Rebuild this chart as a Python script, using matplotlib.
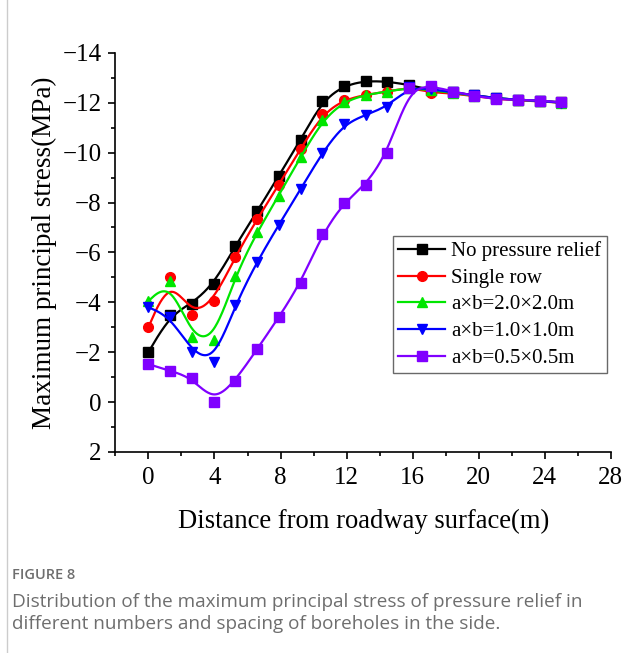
import numpy as np
import matplotlib
matplotlib.use("Agg")
import matplotlib.pyplot as plt
from matplotlib.ticker import MultipleLocator

# distance from roadway surface (m)
distance = [0.0, 1.32, 2.63, 3.95, 5.26, 6.58, 7.89, 9.21, 10.53, 11.84,
            13.16, 14.47, 15.79, 17.11, 18.42, 19.74, 21.05, 22.37, 23.68, 25.0]

# maximum principal stress (MPa)
no_relief = [-2.0, -3.48, -3.95, -4.72, -6.26, -7.64, -9.07, -10.51, -12.08, -12.69,
             -12.88, -12.85, -12.72, -12.5, -12.42, -12.3, -12.18, -12.12, -12.08, -12.02]
single_row = [-3.0, -5.0, -3.47, -4.06, -5.83, -7.33, -8.71, -10.15, -11.54, -12.12,
              -12.32, -12.45, -12.62, -12.41, -12.38, -12.26, -12.15, -12.1, -12.06, -12.0]
ab_2x2 = [-4.05, -4.85, -2.6, -2.47, -5.07, -6.81, -8.28, -9.82, -11.29, -12.05,
          -12.32, -12.45, -12.6, -12.5, -12.4, -12.28, -12.18, -12.12, -12.08, -12.0]
ab_1x1 = [-3.8, -3.42, -2.02, -1.6, -3.9, -5.63, -7.1, -8.53, -10.0, -11.15,
          -11.51, -11.85, -12.62, -12.55, -12.42, -12.3, -12.18, -12.12, -12.08, -12.0]
ab_05x05 = [-1.52, -1.25, -0.98, 0.0, -0.85, -2.12, -3.39, -4.77, -6.74, -8.0,
            -8.71, -9.98, -12.58, -12.68, -12.45, -12.28, -12.14, -12.12, -12.09, -12.02]

labels = ["No pressure relief", "Single row", "a\u00d7b=2.0\u00d72.0m",
          "a\u00d7b=1.0\u00d71.0m", "a\u00d7b=0.5\u00d70.5m"]
colors = ["#000000", "#ff0000", "#00e600", "#0000ff", "#8000ff"]
markers = ["s", "o", "^", "v", "s"]


def bspline(p, n=30):
    # clamped uniform cubic B-spline with the points as control points
    p = np.asarray(p, dtype=float)
    q = np.concatenate([[p[0], p[0]], p, [p[-1], p[-1]]])
    t = np.linspace(0, 1, n, endpoint=False)
    b0 = (1 - t) ** 3 / 6
    b1 = (3 * t ** 3 - 6 * t ** 2 + 4) / 6
    b2 = (-3 * t ** 3 + 3 * t ** 2 + 3 * t + 1) / 6
    b3 = t ** 3 / 6
    out = []
    for i in range(len(q) - 3):
        out.append(b0 * q[i] + b1 * q[i + 1] + b2 * q[i + 2] + b3 * q[i + 3])
    out.append([p[-1]])
    return np.concatenate(out)


plt.rcParams["font.family"] = ["Liberation Serif", "DejaVu Serif"]

fig = plt.figure(figsize=(6.41, 6.53), dpi=100)
ax = fig.add_axes([0.180, 0.308, 0.773, 0.611])

series = [no_relief, single_row, ab_2x2, ab_1x1, ab_05x05]
for ys, lab, c, m in zip(series, labels, colors, markers):
    ax.plot(bspline(distance), bspline(ys), color=c, lw=1.6)
    ax.plot(distance, ys, linestyle="none", marker=m, color=c, ms=7)
    ax.plot([], [], color=c, lw=1.6, marker=m, ms=7, label=lab)

ax.set_xlim(-2, 28)
ax.set_ylim(2, -14)
ax.xaxis.set_major_locator(MultipleLocator(4))
ax.xaxis.set_minor_locator(MultipleLocator(2))
ax.yaxis.set_major_locator(MultipleLocator(2))
ax.yaxis.set_minor_locator(MultipleLocator(1))
ax.spines["top"].set_visible(False)
ax.spines["right"].set_visible(False)
for s in ["left", "bottom"]:
    ax.spines[s].set_linewidth(1.2)
ax.tick_params(which="major", direction="out", length=5, width=1.2, labelsize=18)
ax.tick_params(axis="x", which="major", pad=6)
ax.tick_params(axis="y", which="major", pad=5)
ax.tick_params(which="minor", direction="out", length=3, width=1.2)

ax.set_xlabel("Distance from roadway surface(m)", fontsize=19.2, labelpad=14)
ax.set_ylabel("Maximum principal stress(MPa)", fontsize=19.5, labelpad=4)

leg = ax.legend(loc="upper left", bbox_to_anchor=(0.56, 0.541), fontsize=15,
                frameon=True, fancybox=False, edgecolor="#444444",
                borderpad=0.25, labelspacing=0.34, handlelength=2.25,
                handletextpad=0.3, borderaxespad=0)
leg.get_frame().set_linewidth(1.0)

# caption
fig.text(0.019, 0.113, "FIGURE 8", fontsize=10.5, color="#6e6e6e",
         family="Open Sans", weight="semibold")
fig.text(0.019, 0.036, "Distribution of the maximum principal stress of pressure relief in\n"
         "different numbers and spacing of boreholes in the side.",
         fontsize=13.6, color="#6e6e6e", family="Open Sans", linespacing=1.35)

# page border on the left
fig.add_artist(plt.Line2D([0.011, 0.011], [0, 1], transform=fig.transFigure,
                          color="#cccccc", lw=1))

fig.savefig("out.png", dpi=100)
